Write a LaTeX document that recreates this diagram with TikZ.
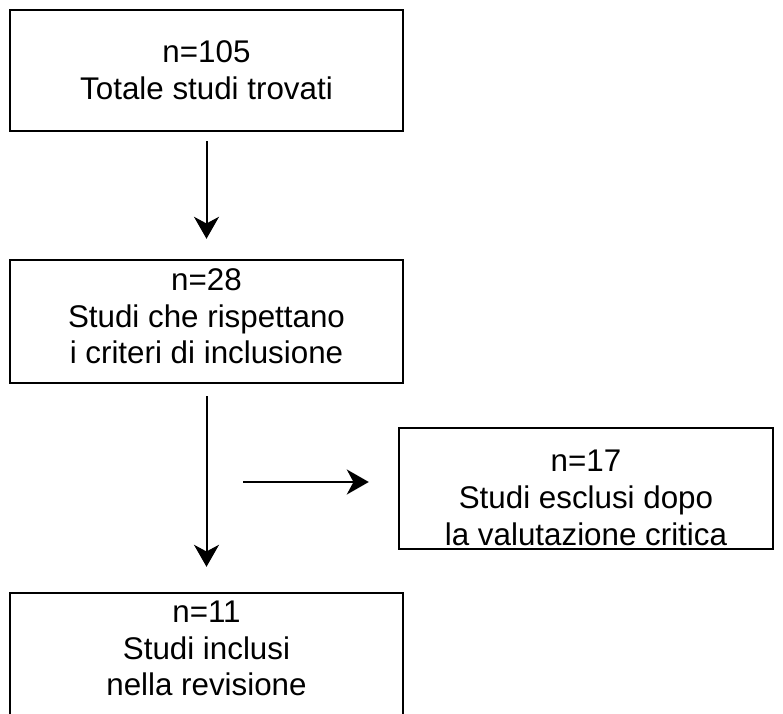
\documentclass[tikz,border=0pt]{standalone}
\usepackage{fontspec}
\setmainfont{Liberation Sans}
\usetikzlibrary{arrows.meta,positioning}

\begin{document}
\begin{tikzpicture}[x=0.75pt,y=-0.75pt,
	cornice/.style={rectangle,draw,line width=1.8pt,inner sep=0pt},
	testo/.style={align=center,inner sep=0pt,font=\fontsize{23.5}{27.5}\selectfont},
	freccia/.style={-{Stealth[length=16.5pt,width=18.75pt,inset=5pt]},line width=1.5pt}]
	\useasboundingbox (0,0) rectangle (783,714);
	\begin{scope}[every node/.style={cornice}]
		\node[minimum width=294.75pt,minimum height=90.75pt] (tot) at (206.5,70.5) {};
		\node[minimum width=294.75pt,minimum height=92.25pt] (incl) at (206.5,321.5) {};
		\node[minimum width=280.5pt,minimum height=90.75pt] (escl) at (586,488.5) {};
		\node[minimum width=294.75pt,minimum height=92.25pt] (rev) at (206.5,654.5) {};
	\end{scope}
	\begin{scope}[every node/.style={testo}]
		\node (tot-t) at (206.5,70.5) {n=105\\Totale studi trovati};
		\node (incl-t) at (206.5,316.5) {n=28\\Studi che rispettano\\i criteri di inclusione};
		\node (escl-t) at (586,498) {n=17\\Studi esclusi dopo\\la valutazione critica};
		\node (rev-t) at (206.5,648.5) {n=11\\Studi inclusi\\nella revisione};
	\end{scope}
	\coordinate (uscita) at (243,482);
	
	\draw[freccia,shorten <=6.75pt,shorten >=15pt] (tot) -- (incl);
	\draw[freccia,shorten <=9pt,shorten >=18.75pt] (incl) -- (rev);
	\draw[freccia,shorten >=21.75pt] (uscita) -- (uscita -| escl.west);
\end{tikzpicture}
\end{document}
